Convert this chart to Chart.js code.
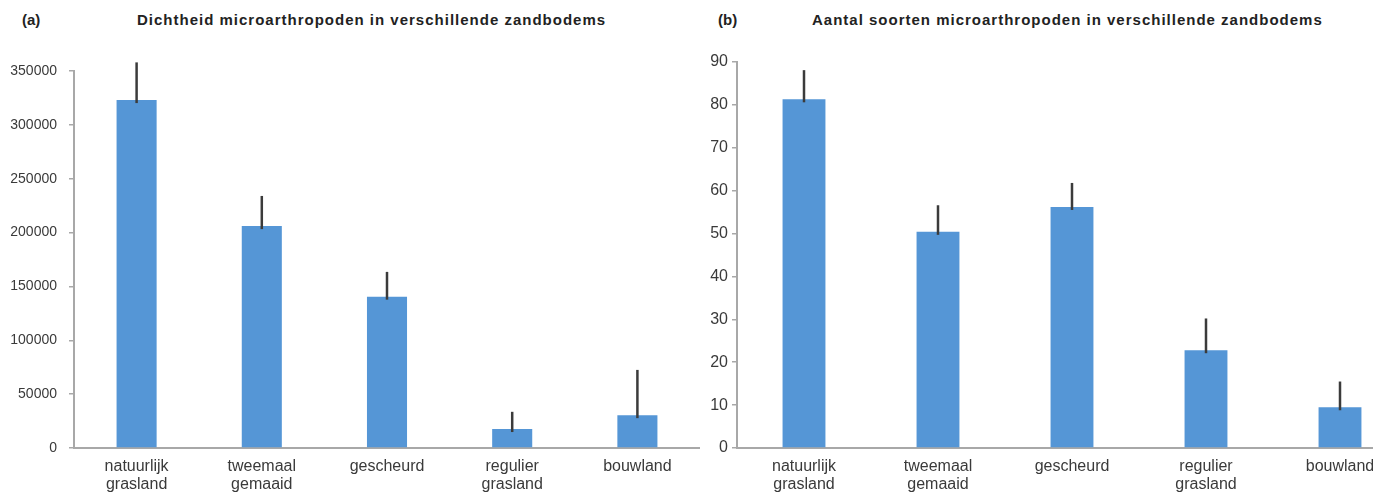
<!DOCTYPE html>
<html>
<head>
<meta charset="utf-8">
<script src="https://cdn.jsdelivr.net/npm/chart.js@4/dist/chart.umd.min.js"></script>
<style>
  html, body { margin: 0; padding: 0; background: #fff; overflow: hidden; width: 1376px; height: 492px; }
  .wrap { position: absolute; top: 0; overflow: hidden; height: 492px; }
  .title { position: absolute; font-family: "Liberation Sans", Arial, sans-serif; font-weight: bold; font-size: 15px; color: #222; white-space: nowrap; top: 11px; }
  .long { letter-spacing: 1px; }
</style>
</head>
<body>
<script>
// ---- data ----
const categories = [["natuurlijk", "grasland"], ["tweemaal", "gemaaid"], ["gescheurd"], ["regulier", "grasland"], ["bouwland"]];
const densityValues = [323000, 206000, 140500, 17600, 30500];
const densityErrors = [35000, 28000, 23000, 16000, 42000];
const speciesValues = [81.3, 50.4, 56.2, 22.8, 9.5];
const speciesErrors = [6.8, 6.2, 5.6, 7.4, 6.0];
const densityTicks = { min: 0, max: 350000, step: 50000 };
const speciesTicks = { min: 0, max: 90, step: 10 };
const titleA = "Dichtheid microarthropoden in verschillende zandbodems";
const titleB = "Aantal soorten microarthropoden in verschillende zandbodems";
</script>

<div class="title" style="left:22px;">(a)</div>
<div class="title long" id="tA" style="left:137px;"></div>
<div class="title" style="left:718px;">(b)</div>
<div class="title long" id="tB" style="left:812px;"></div>

<div class="wrap" style="left:0px; width:700px;"><canvas id="cA" width="700" height="492"></canvas></div>
<div class="wrap" style="left:690px; width:683px;"><canvas id="cB" width="717" height="492"></canvas></div>

<script>
document.getElementById('tA').textContent = titleA;
document.getElementById('tB').textContent = titleB;

const BAR = '#5596d6';
const AXIS = '#a8a8a8';
const TXT = '#3a3a3a';

const errorBars = {
  id: 'errorBars',
  afterDatasetsDraw(chart, args, opts) {
    const ctx = chart.ctx;
    const meta = chart.getDatasetMeta(0);
    const ys = chart.scales.y;
    const vals = chart.data.datasets[0].data;
    const errs = opts.errors;
    ctx.save();
    ctx.strokeStyle = '#3b3b3b';
    ctx.lineWidth = 2.5;
    meta.data.forEach((el, i) => {
      const x = el.x;
      const y0 = ys.getPixelForValue(vals[i]) + 3;
      const y1 = ys.getPixelForValue(vals[i] + errs[i]);
      ctx.beginPath();
      ctx.moveTo(x, y0);
      ctx.lineTo(x, y1);
      ctx.stroke();
    });
    ctx.restore();
  }
};

function makeChart(id, values, errors, ticks, yWidth, topPad, tickFont, tickPad) {
  return new Chart(document.getElementById(id), {
    type: 'bar',
    data: {
      labels: categories,
      datasets: [{ data: values, backgroundColor: BAR, borderWidth: 0, barPercentage: 0.32, categoryPercentage: 1 }]
    },
    options: {
      responsive: false,
      animation: false,
      layout: { padding: { top: topPad, left: 0, right: 0, bottom: 0 } },
      plugins: { legend: { display: false }, tooltip: { enabled: false }, errorBars: { errors: errors } },
      scales: {
        x: {
          offset: true,
          grid: { display: false, drawTicks: false },
          border: { display: true, color: AXIS, width: 2 },
          ticks: { color: TXT, font: { family: '"Liberation Sans", Arial, sans-serif', size: 16, lineHeight: 1.15 }, padding: 9, maxRotation: 0, autoSkip: false },
          afterFit(s) { s.height = 44; }
        },
        y: {
          min: ticks.min, max: ticks.max,
          grid: { display: true, drawOnChartArea: false, drawTicks: true, tickLength: 5, color: AXIS, lineWidth: 1.5 },
          border: { display: true, color: AXIS, width: 2 },
          ticks: { stepSize: ticks.step, color: TXT, font: { family: '"Liberation Sans", Arial, sans-serif', size: tickFont }, padding: tickPad,
                   callback: (v) => String(v) },
          afterFit(s) { s.width = yWidth; }
        }
      }
    },
    plugins: [errorBars]
  });
}

makeChart('cA', densityValues, densityErrors, densityTicks, 74, 71, 14, 12);
makeChart('cB', speciesValues, speciesErrors, speciesTicks, 47, 62, 16, 4);
</script>
</body>
</html>
